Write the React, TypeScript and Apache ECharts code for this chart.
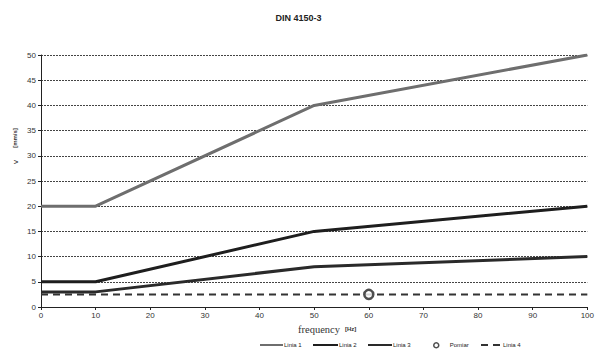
import React, { useEffect, useRef } from "react";
import * as echarts from "echarts";

const xTicks = [0, 10, 20, 30, 40, 50, 60, 70, 80, 90, 100];
const linia1: [number, number][] = [[0, 20], [10, 20], [50, 40], [100, 50]];
const linia2: [number, number][] = [[0, 5], [10, 5], [50, 15], [100, 20]];
const linia3: [number, number][] = [[0, 3], [10, 3], [50, 8], [100, 10]];
const linia4: [number, number][] = [[0, 2.5], [100, 2.5]];
const pomiar: [number, number][] = [[60, 2.5]];
const legendNames = ["Linia 1", "Linia 2", "Linia 3", "Pomiar", "Linia 4"];

export default function App() {
  const ref = useRef<HTMLDivElement>(null);
  useEffect(() => {
    const chart = echarts.init(ref.current!, undefined, { renderer: "svg" });
    const sans = "Liberation Sans, Arial, sans-serif";
    const legendPos = [
      { left: 259, w: 23, h: 6 },
      { left: 312, w: 25, h: 6 },
      { left: 367, w: 24, h: 6 },
      { left: 433, w: 5, h: 5 },
      { left: 480, w: 21, h: 6 },
    ];
    const legends = legendNames.map((n, i) => ({
      left: legendPos[i].left,
      top: 342,
      padding: 0,
      itemWidth: legendPos[i].w,
      itemHeight: legendPos[i].h,
      textStyle: {
        fontFamily: sans,
        fontSize: 6,
        color: "#222",
        padding: [0, 0, 0, n === "Pomiar" ? 6 : -4],
      },
      data: [
        n === "Pomiar"
          ? { name: n, itemStyle: { borderWidth: 1.5 } }
          : { name: n, itemStyle: { opacity: 0 } },
      ],
    }));
    chart.setOption({
      animation: false,
      backgroundColor: "#fff",
      title: {
        text: "DIN 4150-3",
        left: "center",
        top: 13,
        padding: 0,
        textStyle: { fontFamily: sans, fontSize: 9, fontWeight: "bold", color: "#222" },
      },
      grid: { left: 41, right: 6, top: 55, bottom: 45 },
      xAxis: {
        type: "value",
        min: 0,
        max: 100,
        interval: 10,
        axisLine: { show: true, lineStyle: { color: "#222", width: 1 } },
        axisTick: { show: true, length: 3, lineStyle: { color: "#222" } },
        axisLabel: { fontFamily: sans, fontSize: 8, color: "#333", margin: 4 },
        splitLine: { show: false },
      },
      yAxis: {
        type: "value",
        min: 0,
        max: 50,
        interval: 5,
        axisLine: { show: true, lineStyle: { color: "#222", width: 1 } },
        axisTick: { show: true, length: 3, lineStyle: { color: "#222" } },
        axisLabel: { fontFamily: sans, fontSize: 8, color: "#333", margin: 5 },
        splitLine: { show: true, lineStyle: { color: "#444", type: [2, 1], width: 1 } },
      },
      legend: legends,
      graphic: [
        {
          type: "text",
          x: 298,
          y: 329,
          style: {
            text: "frequency",
            font: "10.5px 'Liberation Serif', 'Times New Roman', serif",
            fill: "#333",
            verticalAlign: "middle",
          },
        },
        {
          type: "text",
          x: 345,
          y: 329,
          style: {
            text: "[Hz]",
            font: "bold 6px 'Liberation Sans', Arial, sans-serif",
            fill: "#333",
            verticalAlign: "middle",
          },
        },
        {
          type: "text",
          x: 15,
          y: 138,
          rotation: Math.PI / 2,
          style: {
            text: "[mm/s]",
            font: "bold 6px 'Liberation Sans', Arial, sans-serif",
            fill: "#333",
            align: "center",
            verticalAlign: "middle",
          },
        },
        {
          type: "text",
          x: 15,
          y: 162,
          rotation: Math.PI / 2,
          style: {
            text: "v",
            font: "8px 'Liberation Sans', Arial, sans-serif",
            fill: "#333",
            align: "center",
            verticalAlign: "middle",
          },
        },
      ],
      series: [
        {
          name: "Linia 1",
          type: "line",
          data: linia1,
          symbol: "none",
          lineStyle: { color: "#6e6e6e", width: 3 },
          itemStyle: { color: "#6e6e6e" },
        },
        {
          name: "Linia 2",
          type: "line",
          data: linia2,
          symbol: "none",
          lineStyle: { color: "#1e1e1e", width: 3 },
          itemStyle: { color: "#1e1e1e" },
        },
        {
          name: "Linia 3",
          type: "line",
          data: linia3,
          symbol: "none",
          lineStyle: { color: "#2a2a2a", width: 3 },
          itemStyle: { color: "#2a2a2a" },
        },
        {
          name: "Pomiar",
          type: "scatter",
          data: pomiar,
          symbol: "circle",
          symbolSize: 9,
          z: 5,
          itemStyle: { color: "#fff", borderColor: "#222", borderWidth: 2.5 },
        },
        {
          name: "Linia 4",
          type: "line",
          data: linia4,
          symbol: "none",
          lineStyle: { color: "#333", width: 2, type: [7, 5] },
          itemStyle: { color: "#333" },
        },
      ],
    });
    return () => chart.dispose();
  }, []);
  return <div ref={ref} style={{ width: 597, height: 352, position: "absolute", left: 0, top: 0 }} />;
}
